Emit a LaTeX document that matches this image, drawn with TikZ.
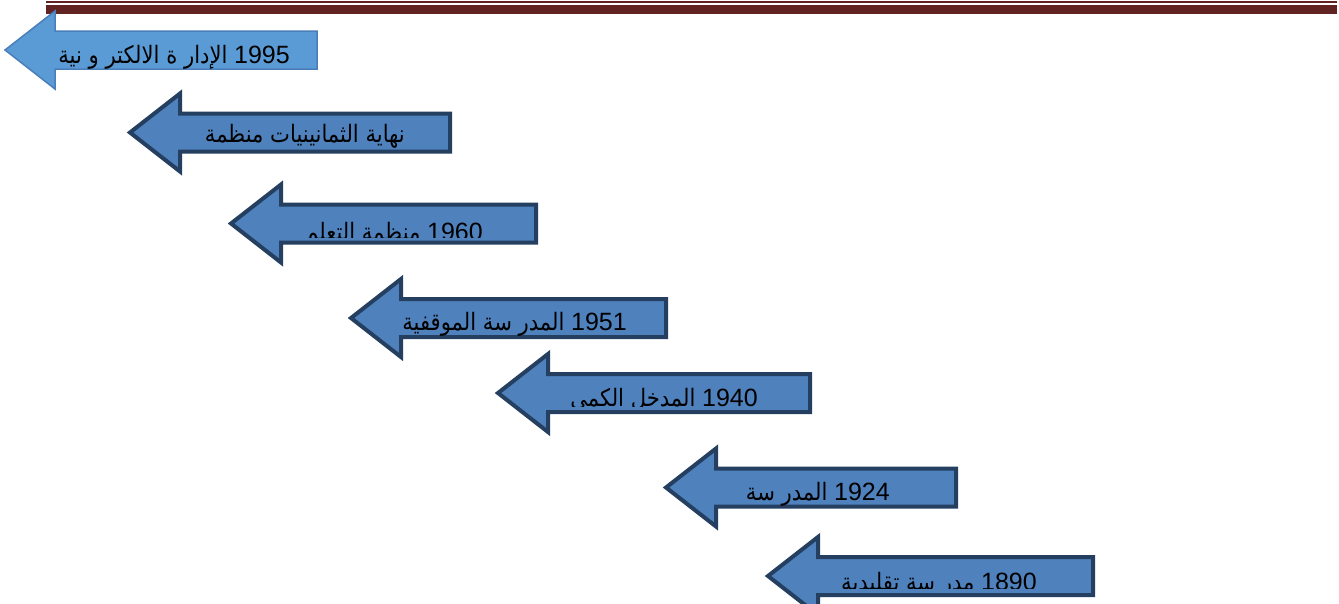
\documentclass[tikz,border=0pt]{standalone}
\usepackage{fontspec}
\TeXXeTstate=1
\newfontfamily\arabicfont[Script=Arabic, FakeStretch=0.88]{DejaVu Sans}
\newfontfamily\digitfont{Liberation Sans}
\definecolor{rulered}{HTML}{622423}
\definecolor{lightfill}{HTML}{5B9BD5}
\definecolor{lightedge}{HTML}{4A7EBB}
\definecolor{darkfill}{HTML}{4F81BD}
\definecolor{darkedge}{HTML}{243F60}

% left-pointing block arrow: style, tip x, centre y, right end x
\newcommand\eraarrow[4]{%
  \draw[#1] (#2+3,#3) -- (#2+53,#3-39) -- (#2+53,#3-19) -- (#4-2,#3-19)
    -- (#4-2,#3+19) -- (#2+53,#3+19) -- (#2+53,#3+39) -- cycle;}

\tikzset{
  firstera/.style={fill=lightfill, draw=lightedge, line width=1.5pt, line join=miter},
  era/.style={fill=darkfill, draw=darkedge, line width=4pt, line join=miter},
  eratext/.style={anchor=base east, inner sep=0pt, text=black,
    font=\arabicfont\fontsize{24}{28}\selectfont}
}
\newcommand\yr[1]{{\digitfont\fontsize{25}{30}\selectfont #1}}

\begin{document}
\begin{tikzpicture}[x=1pt, y=-1pt]
\useasboundingbox[fill=white] (0,0) rectangle (1339,603);

% page header rules
\fill[rulered] (46,1) rectangle (1337,3);
\fill[rulered] (46,5) rectangle (1337,14);

% arrows
\eraarrow{firstera}{2}{50}{319}
\eraarrow{era}{127}{132.5}{452}
\eraarrow{era}{228}{223.5}{538}
\eraarrow{era}{348}{318}{668}
\eraarrow{era}{495}{393}{812}
\eraarrow{era}{663}{487.5}{958}
\eraarrow{era}{765}{576}{1095}

% labels
\node[eratext] (e1995) at (290,63) {\beginR\beginL\yr{1995}\endL{} الإدار ة الالكتر و نية\endR};
\node[eratext] (e1980) at (405,142) {\beginR نهاية الثمانينيات منظمة\endR};
\begin{scope}
  \clip (282,205) rectangle (536,237);
  \node[eratext] (e1960) at (483,240) {\beginR\beginL\yr{1960}\endL{} منظمة التعلم\endR};
\end{scope}
\node[eratext] (e1951) at (627,330) {\beginR\beginL\yr{1951}\endL{} المدر سة الموقفية\endR};
\begin{scope}
  \clip (547,375) rectangle (810,406);
  \node[eratext] (e1940) at (758,406) {\beginR\beginL\yr{1940}\endL{} المدخل الكمي\endR};
\end{scope}
\node[eratext] (e1924) at (890,500) {\beginR\beginL\yr{1924}\endL{} المدر سة\endR};
\begin{scope}
  \clip (815,557) rectangle (1093,588);
  \node[eratext] (e1890) at (1037,590) {\beginR\beginL\yr{1890}\endL{} مدر سة تقليدية\endR};
\end{scope}
\end{tikzpicture}
\end{document}
